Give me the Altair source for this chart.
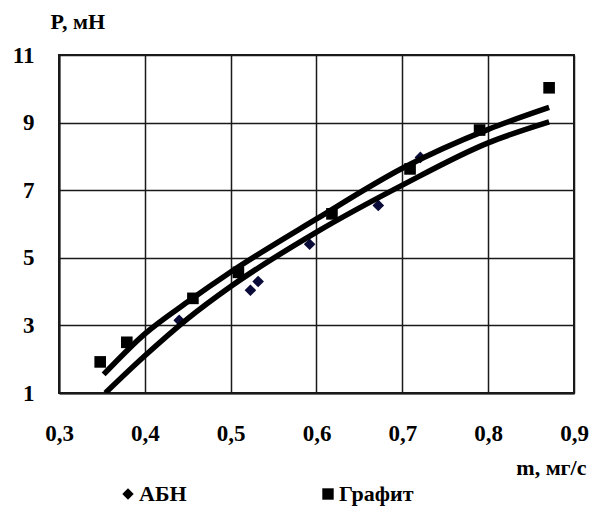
import altair as alt
import pandas as pd

# Measured points
graphite_x = [0.348, 0.379, 0.456, 0.509, 0.618, 0.709, 0.790, 0.871]
graphite_y = [1.92, 2.50, 3.80, 4.57, 6.30, 7.63, 8.78, 10.03]
abn_x = [0.440, 0.523, 0.532, 0.592, 0.672, 0.721]
abn_y = [3.15, 4.04, 4.30, 5.40, 6.55, 7.97]

# Trend lines
upper_x = [0.352, 0.40, 0.45, 0.50, 0.60, 0.70, 0.80, 0.871]
upper_y = [1.55, 2.75, 3.70, 4.58, 6.15, 7.65, 8.80, 9.45]
lower_x = [0.354, 0.40, 0.45, 0.50, 0.60, 0.70, 0.80, 0.871]
lower_y = [1.00, 2.10, 3.20, 4.15, 5.76, 7.15, 8.40, 9.02]

series_names = ["АБН", "Графит"]
x_ticks = [0.3, 0.4, 0.5, 0.6, 0.7, 0.8, 0.9]
y_ticks = [1, 3, 5, 7, 9, 11]

pts = pd.DataFrame(
    {"x": abn_x + graphite_x,
     "y": abn_y + graphite_y,
     "s": ["АБН"] * len(abn_x) + ["Графит"] * len(graphite_x)}
)
lines = pd.DataFrame(
    {"x": upper_x + lower_x,
     "y": upper_y + lower_y,
     "l": ["up"] * len(upper_x) + ["low"] * len(lower_x)}
)

FONT = "Liberation Serif"
LEGEND_FONT = "Liberation Serif, Times New Roman, serif"

xscale = alt.Scale(domain=[0.3, 0.9], nice=False, zero=False)
yscale = alt.Scale(domain=[1, 11], nice=False, zero=False)

xaxis = alt.Axis(
    values=x_ticks, labelExpr="replace(format(datum.value, '.1f'), '.', ',')",
    ticks=False, grid=True, gridColor="#1a1a1a", gridWidth=1.5,
    domainColor="#1a1a1a", domainWidth=2,
    labelFont=FONT, labelFontSize=23, labelFontWeight="bold", labelColor="black",
    labelPadding=29, labelFlush=False,
    title="m, мг/с", titleFont=FONT, titleFontSize=22, titleFontWeight="bold",
    titleColor="black", titleAnchor="end", titleAlign="right",
    titleX=527, titleY=74, titleBaseline="middle",
)
yaxis = alt.Axis(
    values=y_ticks, format="d",
    ticks=False, grid=True, gridColor="#1a1a1a", gridWidth=1.5,
    domainColor="#1a1a1a", domainWidth=2,
    labelFont=FONT, labelFontSize=23, labelFontWeight="bold", labelColor="black",
    labelPadding=25, labelFlush=False,
    title="P, мН", titleFont=FONT, titleFontSize=22, titleFontWeight="bold",
    titleColor="black", titleAngle=0, titleAlign="left", titleBaseline="middle",
    titleX=-9, titleY=-34,
)

leg = alt.Legend(
    title=None, orient="none", direction="horizontal",
    legendX=58, legendY=428, columnPadding=130,
    labelFont=LEGEND_FONT, labelFontSize=22, labelFontWeight="bold",
    labelColor="black", symbolStrokeWidth=0, labelOffset=0,
    symbolFillColor="black", symbolSize=130, symbolType="square",
)

points = alt.Chart(pts).mark_point(filled=True, opacity=1, strokeWidth=0, size=135).encode(
    x=alt.X("x:Q", scale=xscale, axis=xaxis),
    y=alt.Y("y:Q", scale=yscale, axis=yaxis),
    shape=alt.Shape("s:N", scale=alt.Scale(domain=series_names, range=["diamond", "square"]),
                    legend=leg),
    color=alt.condition(alt.datum.s == "АБН", alt.value("#0b0b3a"), alt.value("#000000")),
)

trend = alt.Chart(lines).mark_line(color="black", strokeWidth=5.5, clip=True,
                                    interpolate="monotone").encode(
    x=alt.X("x:Q", scale=xscale),
    y=alt.Y("y:Q", scale=yscale),
    detail="l:N",
)

chart = alt.layer(points, trend).properties(
    width=515, height=338,
    padding={"left": 59, "top": 55, "right": 27, "bottom": 118},
    autosize="none", background="white",
).configure(font=FONT).configure_view(stroke="#1a1a1a", strokeWidth=2).configure_legend(
    labelFont=LEGEND_FONT, labelFontSize=22, labelFontWeight="bold", labelColor="black"
)

chart.save("out.html", embed_options={"renderer": "svg", "actions": False})
